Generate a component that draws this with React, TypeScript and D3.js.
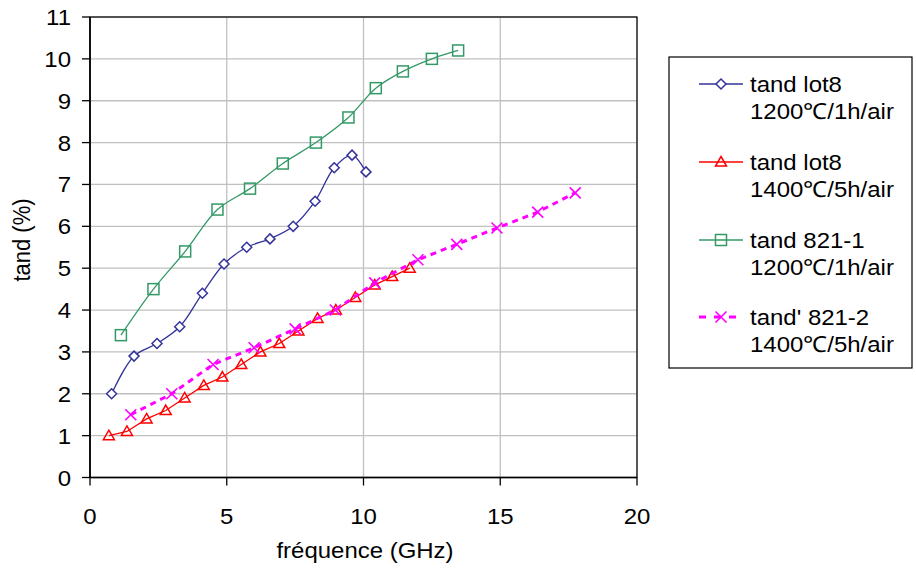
import React from "react";
import * as d3 from "d3";

const xTicks = [0, 5, 10, 15, 20];
const yTicks = [0, 1, 2, 3, 4, 5, 6, 7, 8, 9, 10, 11];

const blueX = [0.79, 1.61, 2.45, 3.28, 4.11, 4.9, 5.73, 6.58, 7.43, 8.23, 8.93, 9.58, 10.09];
const blueY = [2.0, 2.9, 3.2, 3.6, 4.4, 5.1, 5.5, 5.7, 6.0, 6.6, 7.4, 7.7, 7.3];
const redX = [0.69, 1.35, 2.07, 2.77, 3.46, 4.16, 4.84, 5.53, 6.23, 6.92, 7.62, 8.32, 8.99, 9.7, 10.41, 11.05, 11.69];
const redY = [1.0, 1.1, 1.4, 1.6, 1.9, 2.2, 2.4, 2.7, 3.0, 3.2, 3.5, 3.8, 4.0, 4.3, 4.6, 4.8, 5.0];
const greenX = [1.13, 2.32, 3.48, 4.66, 5.85, 7.05, 8.26, 9.45, 10.45, 11.44, 12.5, 13.46];
const greenY = [3.4, 4.5, 5.4, 6.4, 6.9, 7.5, 8.0, 8.6, 9.3, 9.7, 10.0, 10.2];
const magX = [1.49, 2.99, 4.5, 6.0, 7.5, 8.97, 10.41, 11.99, 13.41, 14.88, 16.37, 17.74];
const magY = [1.5, 2.0, 2.7, 3.1, 3.55, 4.0, 4.65, 5.2, 5.57, 5.96, 6.34, 6.8];

const legendLine1 = ["tand lot8", "tand lot8", "tand 821-1", "tand' 821-2"];
const legendLine2 = ["1200℃/1h/air", "1400℃/5h/air", "1200℃/1h/air", "1400℃/5h/air"];

const FONT = "Arial, 'Liberation Sans', sans-serif";
const FS = 22;
const SX = 1.09;

type MarkerKind = "diamond" | "triangle" | "square" | "x";

function Marker({ kind, cx, cy, color }: { kind: MarkerKind; cx: number; cy: number; color: string }) {
  if (kind === "diamond") {
    const r = 5;
    return <path d={`M${cx},${cy - r}L${cx + r},${cy}L${cx},${cy + r}L${cx - r},${cy}Z`} fill="#fff" stroke={color} strokeWidth={1.5} />;
  }
  if (kind === "square") {
    const r = 5.5;
    return <rect x={cx - r} y={cy - r} width={2 * r} height={2 * r} fill="none" stroke={color} strokeWidth={1.5} />;
  }
  if (kind === "triangle") {
    return <path d={`M${cx},${cy - 5.5}L${cx + 5.5},${cy + 4}L${cx - 5.5},${cy + 4}Z`} fill="none" stroke={color} strokeWidth={1.5} />;
  }
  const r = 5.5;
  return (
    <path d={`M${cx - r},${cy - r}L${cx + r},${cy + r}M${cx - r},${cy + r}L${cx + r},${cy - r}`} stroke={color} strokeWidth={1.6} fill="none" />
  );
}

function Txt({ x, y, anchor = "start", children, rotate = 0 }: any) {
  return (
    <text
      transform={`translate(${x},${y}) scale(${SX},1) rotate(${rotate})`}
      textAnchor={anchor}
      fontFamily={FONT}
      fontSize={FS}
      fill="#000"
    >
      {children}
    </text>
  );
}

export default function App() {
  const W = 916, H = 570;
  const x = d3.scaleLinear().domain([0, 20]).range([90, 637]);
  const y = d3.scaleLinear().domain([0, 11]).range([477.5, 17]);

  const series = [
    { xs: blueX, ys: blueY, color: "#333399", kind: "diamond" as MarkerKind, curve: d3.curveCatmullRom.alpha(0.5), dash: undefined, width: 1.3 },
    { xs: redX, ys: redY, color: "#ff0000", kind: "triangle" as MarkerKind, curve: d3.curveLinear, dash: undefined, width: 1.3 },
    { xs: greenX, ys: greenY, color: "#339966", kind: "square" as MarkerKind, curve: d3.curveCatmullRom.alpha(0.5), dash: undefined, width: 1.3 },
    { xs: magX, ys: magY, color: "#ff00ff", kind: "x" as MarkerKind, curve: d3.curveLinear, dash: "6,5", width: 3 },
  ];

  const legendX0 = 669, legendY0 = 57, legendW = 243, legendH = 311;
  const entryY = [84, 162, 240, 317];

  return (
    <svg width={W} height={H} style={{ position: "absolute", left: 0, top: 0, background: "#fff" }}>
      <rect x={0} y={0} width={W} height={H} fill="#fff" />
      {yTicks.map((t) => (
        <line key={"gy" + t} x1={x(0)} x2={x(20)} y1={y(t)} y2={y(t)} stroke="#c0c0c0" strokeWidth={1.3} />
      ))}
      {xTicks.map((t) => (
        <line key={"gx" + t} x1={x(t)} x2={x(t)} y1={y(0)} y2={y(11)} stroke="#c0c0c0" strokeWidth={1.3} />
      ))}
      <rect x={x(0)} y={y(11)} width={x(20) - x(0)} height={y(0) - y(11)} fill="none" stroke="#000" strokeWidth={1.2} />
      <line x1={x(0)} x2={x(0)} y1={y(0)} y2={y(11)} stroke="#000" strokeWidth={1.6} />
      <line x1={x(0)} x2={x(20)} y1={y(0)} y2={y(0)} stroke="#000" strokeWidth={1.6} />
      {yTicks.map((t) => (
        <g key={"ty" + t}>
          <line x1={x(0) - 8} x2={x(0)} y1={y(t)} y2={y(t)} stroke="#000" strokeWidth={1.3} />
          <Txt x={71} y={y(t) + 8} anchor="end">{t}</Txt>
        </g>
      ))}
      {xTicks.map((t) => (
        <g key={"tx" + t}>
          <line x1={x(t)} x2={x(t)} y1={y(0)} y2={y(0) + 8} stroke="#000" strokeWidth={1.3} />
          <Txt x={x(t)} y={524} anchor="middle">{t}</Txt>
        </g>
      ))}
      <Txt x={365} y={558} anchor="middle">fréquence (GHz)</Txt>
      <Txt x={30} y={240} anchor="middle" rotate={-90}>tand (%)</Txt>

      {series.map((s, i) => {
        const pts: [number, number][] = s.xs.map((v, j) => [x(v), y(s.ys[j])]);
        const line = d3.line().curve(s.curve as any)(pts) || "";
        return (
          <g key={"s" + i}>
            <path d={line} fill="none" stroke={s.color} strokeWidth={s.width} strokeDasharray={s.dash} />
            {pts.map((p, j) => (
              <Marker key={j} kind={s.kind} cx={p[0]} cy={p[1]} color={s.color} />
            ))}
          </g>
        );
      })}

      <rect x={legendX0} y={legendY0} width={legendW} height={legendH} fill="#fff" stroke="#000" strokeWidth={1.2} />
      {series.map((s, i) => (
        <g key={"l" + i}>
          <line x1={699} x2={743} y1={entryY[i]} y2={entryY[i]} stroke={s.color} strokeWidth={s.width} strokeDasharray={s.dash ? "7,8" : undefined} />
          <Marker kind={s.kind} cx={721} cy={entryY[i]} color={s.color} />
          <Txt x={750} y={entryY[i] + 8}>{legendLine1[i]}</Txt>
          <Txt x={750} y={entryY[i] + 35}>{legendLine2[i]}</Txt>
        </g>
      ))}
    </svg>
  );
}
